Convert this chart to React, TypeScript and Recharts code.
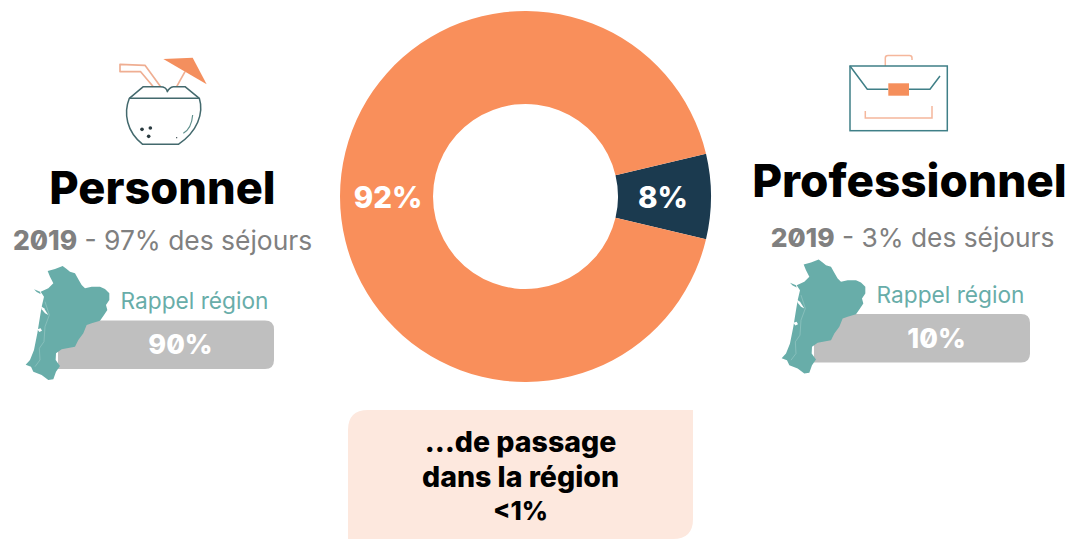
import React from "react";
import { PieChart, Pie, Cell } from "recharts";

const categories = ["Professionnel", "Personnel"];
const shares = [7.4, 92.6];
const shareLabels = ["8%", "92%"];
const sliceColors = ["#1B3A4F", "#F98F5B"];

const tripTypes = ["Personnel", "Professionnel"];
const stayYears = ["2019", "2019"];
const stayShares = ["97% des séjours", "3% des séjours"];
const regionShares = ["90%", "10%"];

const passingLines = ["…de passage", "dans la région", "<1%"];

const pieData = categories.map((name, i) => ({ name, value: shares[i], label: shareLabels[i] }));

const FONT = "Inter, 'Noto Sans', sans-serif";
const RADIAN = Math.PI / 180;

// outline, in 3x coordinates
const MAP_PATH =
  "M83 33 L105 27 L128 18 L140 27 L150 35 L165 40 L175 58 L185 75 L195 85 L215 80 L240 80 L255 87 L268 100 L268 120 L258 135 L262 150 L250 168 L240 182 L215 190 L200 195 L190 220 L175 240 L165 260 L125 268 L108 280 L107 300 L120 318 L108 335 L100 358 L85 360 L65 345 L40 335 L33 320 L17 314 L30 300 L42 270 L52 220 L60 170 L65 140 L72 110 L62 95 L85 85 L100 70 L90 50 Z";

function PieLabel(props: any) {
  const { cx, cy, midAngle, innerRadius, outerRadius, payload } = props;
  const r = (innerRadius + outerRadius) / 2 - 1.5;
  const x = cx + r * Math.cos(-midAngle * RADIAN);
  const y = cy + r * Math.sin(-midAngle * RADIAN);
  return (
    <text
      x={x}
      y={y + 11}
      textAnchor="middle"
      fill="#fff"
      fontFamily={FONT}
      fontWeight={800}
      fontSize={29.5}
      style={{ fontFeatureSettings: "'zero'" }}
    >
      {payload.label}
    </text>
  );
}

function RegionBlock({ index, dx, dy }: { index: number; dx: number; dy: number }) {
  return (
    <g transform={`translate(${dx} ${dy})`}>
      <path d="M58 320.5 H265 Q274 320.5 274 329.5 V360 Q274 369 265 369 H58 Z" fill="#BFBFBF" />
      <g transform="translate(20 260) scale(0.3333)">
        <path d={MAP_PATH} fill="#68ADA9" />
        <path d="M42 88 L60 95 L62 102 L50 96 Z" fill="#68ADA9" />
        <path d="M62 138 L72 145 L85 165 L75 160 L65 148 Z" fill="#fff" />
        <path d="M52 208 L62 205 L66 212 L58 216 Z" fill="#fff" />
        <path d="M75 125 L88 165 L75 200 L72 245 L58 265 L60 300 L45 320" fill="none" stroke="#A5D0CC" strokeWidth={1.5} />
      </g>
      <text x={194.5} y={309} textAnchor="middle" fill="#68ADA9" fontFamily={FONT} fontSize={22.7}>
        Rappel région
      </text>
      <text
        x={180.5}
        y={354}
        textAnchor="middle"
        fill="#fff"
        fontFamily={FONT}
        fontWeight={800}
        fontSize={27}
        style={{ fontFeatureSettings: "'zero'" }}
      >
        {regionShares[index]}
      </text>
    </g>
  );
}

function Coconut() {
  return (
    <g transform="translate(110 50) scale(0.3333)" fill="none" strokeLinejoin="round">
      <path d="M152 110 L105 46 L30 43 L30 65 L92 65 L130 110" stroke="#EFAE92" strokeWidth={5} />
      <path d="M200 110 L225 65" stroke="#EFAE92" strokeWidth={5} />
      <path d="M160 27 L248 23 L290 103 Z" fill="#F48F5E" />
      <path
        d="M58 145 L100 110 L150 110 Q170 110 172 125 Q178 112 190 110 L225 110 L268 145 C282 190 262 245 205 283 L98 283 C50 245 40 190 58 145 Z"
        stroke="#43696D"
        strokeWidth={4.5}
      />
      <path d="M58 145 L268 145" stroke="#43696D" strokeWidth={4.5} />
      <path d="M248 195 Q245 235 220 250" stroke="#5E8F8C" strokeWidth={3.5} />
      <g fill="#2A3B40">
        <circle cx={96} cy={238} r={5.5} />
        <circle cx={121} cy={234} r={5.5} />
        <circle cx={116} cy={259} r={5.5} />
        <circle cx={200} cy={263} r={2} />
      </g>
    </g>
  );
}

function Briefcase() {
  return (
    <g fill="none">
      <path d="M885.3 66 V58 Q885.3 55.5 888 55.5 H909.5 Q912 55.5 912 58 V60" stroke="#F5B79C" strokeWidth={1.5} />
      <rect x={850} y={66} width={97.3} height={64.7} stroke="#3F7F87" strokeWidth={1.5} />
      <path d="M850 66 L867.3 89.3 H888.3 M909 89.3 H930 L940 76" stroke="#3F7F87" strokeWidth={1.5} />
      <rect x={888.3} y={83.3} width={20.7} height={12.4} fill="#F58F5C" />
      <path d="M865.3 111 V118 H932 V106" stroke="#F5B79C" strokeWidth={1.5} />
    </g>
  );
}

export default function App() {
  return (
    <div style={{ position: "absolute", left: 0, top: 0, width: 1071, height: 539, background: "#fff", overflow: "hidden" }}>
      <PieChart width={1071} height={539} margin={{ top: 0, right: 0, bottom: 0, left: 0 }}>
        <Pie
          data={pieData}
          dataKey="value"
          cx={525.5}
          cy={196.5}
          innerRadius={92.5}
          outerRadius={185.5}
          startAngle={13.32}
          endAngle={-346.68}
          stroke="none"
          label={PieLabel}
          labelLine={false}
          isAnimationActive={false}
        >
          {pieData.map((entry, index) => (
            <Cell key={entry.name} fill={sliceColors[index]} />
          ))}
        </Pie>
      </PieChart>

      <svg width={1071} height={539} style={{ position: "absolute", left: 0, top: 0, pointerEvents: "none" }}>
        <Coconut />
        <Briefcase />

        <text x={162.5} y={204} textAnchor="middle" fill="#000" fontFamily={FONT} fontWeight={800} fontSize={45.2}>
          {tripTypes[0]}
        </text>
        <text x={909.5} y={197} textAnchor="middle" fill="#000" fontFamily={FONT} fontWeight={800} fontSize={45.9}>
          {tripTypes[1]}
        </text>

        <text x={162.5} y={250} textAnchor="middle" fill="#808080" fontFamily={FONT} fontSize={26.4} style={{ fontFeatureSettings: "'zero'" }}>
          <tspan fontWeight={800}>{stayYears[0]}</tspan> - {stayShares[0]}
        </text>
        <text x={912.5} y={247} textAnchor="middle" fill="#808080" fontFamily={FONT} fontSize={26.3} style={{ fontFeatureSettings: "'zero'" }}>
          <tspan fontWeight={800}>{stayYears[1]}</tspan> - {stayShares[1]}
        </text>

        <RegionBlock index={0} dx={0} dy={0} />
        <RegionBlock index={1} dx={756} dy={-6.5} />

        <path d="M348 539 V430 Q348 410 368 410 H693 V519 Q693 539 673 539 Z" fill="#FDE8DE" />
        {passingLines.map((line, i) => (
          <text
            key={line}
            x={520.5}
            y={[452, 487, 520][i]}
            textAnchor="middle"
            fill="#000"
            fontFamily={FONT}
            fontWeight={800}
            fontSize={i === 2 ? 25.5 : 28.5}
          >
            {line}
          </text>
        ))}
      </svg>
    </div>
  );
}
